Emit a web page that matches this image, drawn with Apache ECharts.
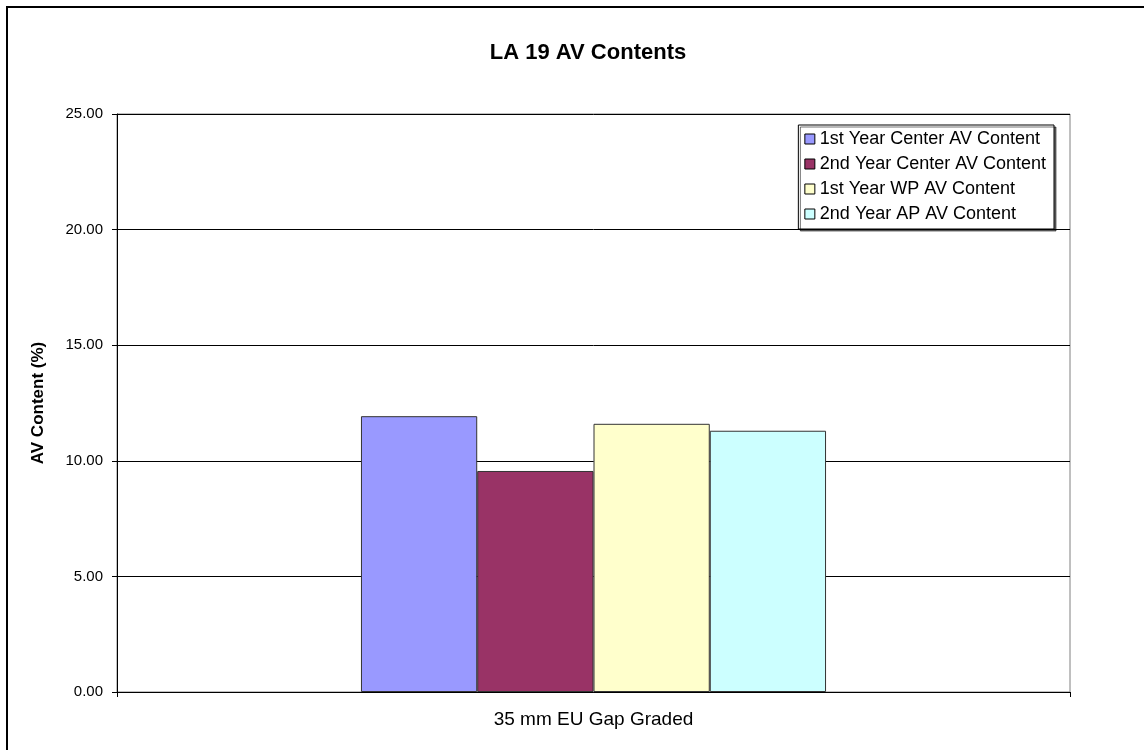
<!DOCTYPE html>
<html>
<head>
<meta charset="utf-8">
<title>LA 19 AV Contents</title>
<script src="https://cdn.jsdelivr.net/npm/echarts@6/dist/echarts.min.js"></script>
<style>
  html, body { margin: 0; padding: 0; background: #fff; }
  #chart { width: 1144px; height: 750px; }
</style>
</head>
<body>
<div id="chart"></div>
<script>
// Air-void content by measurement, one section
const categories = ['35 mm EU Gap Graded'];
const seriesNames = [
  '1st Year Center AV Content',
  '2nd Year Center AV Content',
  '1st Year WP AV Content',
  '2nd Year AP AV Content'
];
const center1st = [11.93];
const center2nd = [9.56];
const wp1st = [11.60];
const ap2nd = [11.30];
const seriesColors = ['#9999FF', '#993366', '#FFFFCC', '#CCFFFF'];
const yTicks = [0, 5, 10, 15, 20, 25];

const seriesValues = [center1st, center2nd, wp1st, ap2nd];
const FONT = '"Liberation Sans", Arial, sans-serif';

const chart = echarts.init(document.getElementById('chart'), null, { renderer: 'canvas' });

chart.setOption({
  animation: false,
  backgroundColor: '#ffffff',
  textStyle: { fontFamily: FONT, color: '#000' },
  title: {
    text: 'LA 19 AV Contents',
    left: 583,
    top: 37,
    textAlign: 'center',
    textStyle: { fontFamily: FONT, fontSize: 22, fontWeight: 'bold', color: '#000' }
  },
  grid: {
    left: 117, top: 114, right: 74, bottom: 58,
    show: true, borderColor: '#808080', borderWidth: 1, backgroundColor: '#fff'
  },
  legend: {
    orient: 'vertical',
    right: 90, top: 125,
    padding: [5, 8, 6, 6],
    itemWidth: 10, itemHeight: 10, itemGap: 7,
    backgroundColor: '#fff',
    borderColor: '#000', borderWidth: 1, borderRadius: 0,
    shadowColor: 'rgba(0,0,0,0.55)', shadowOffsetX: 2, shadowOffsetY: 2, shadowBlur: 0,
    icon: 'rect',
    itemStyle: { borderColor: '#000', borderWidth: 1 },
    textStyle: { fontFamily: FONT, fontSize: 18, color: '#000', lineHeight: 18 },
    data: seriesNames
  },
  xAxis: {
    type: 'category',
    data: categories,
    boundaryGap: true,
    axisLine: { show: true, lineStyle: { color: '#000', width: 1 } },
    axisTick: { show: true, length: 5, lineStyle: { color: '#000' } },
    axisLabel: { fontFamily: FONT, fontSize: 19, color: '#000', margin: 18 },
    splitLine: { show: false }
  },
  yAxis: {
    type: 'value',
    min: yTicks[0],
    max: yTicks[yTicks.length - 1],
    interval: yTicks[1] - yTicks[0],
    name: 'AV Content (%)',
    nameLocation: 'middle',
    nameGap: 70,
    nameRotate: 90,
    nameTextStyle: { fontFamily: FONT, fontSize: 17, fontWeight: 'bold', color: '#000' },
    axisLine: { show: true, lineStyle: { color: '#000', width: 1 } },
    axisTick: { show: true, length: 5, inside: false, lineStyle: { color: '#000' } },
    axisLabel: {
      fontFamily: FONT, fontSize: 15, color: '#000', margin: 14,
      formatter: v => v.toFixed(2)
    },
    splitLine: { show: true, lineStyle: { color: '#000', width: 1 } }
  },
  series: seriesNames.map((name, i) => ({
    name,
    type: 'bar',
    data: seriesValues[i],
    barWidth: '12.2%',
    barGap: '0%',
    itemStyle: { color: seriesColors[i], borderColor: '#333', borderWidth: 1 }
  })),
  graphic: [{
    type: 'rect',
    silent: true,
    z: 100,
    shape: { x: 7, y: 7, width: 1200, height: 800 },
    style: { fill: null, stroke: '#000', lineWidth: 2 }
  }]
});
</script>
</body>
</html>
